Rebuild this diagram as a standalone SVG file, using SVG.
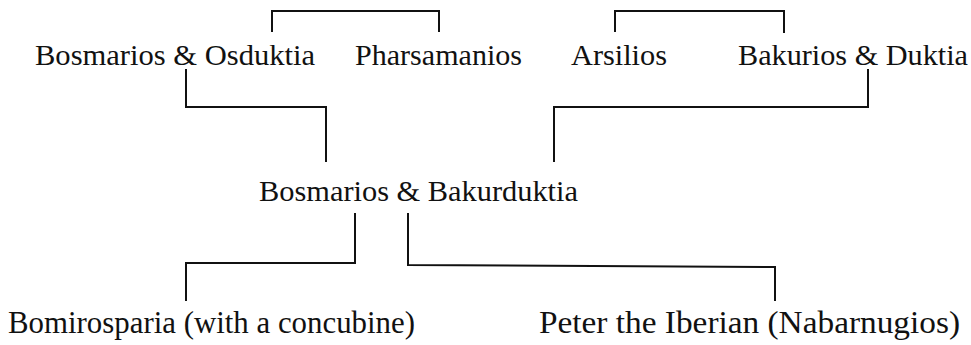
<svg xmlns="http://www.w3.org/2000/svg" width="971" height="345" viewBox="0 0 971 345">
<style>
text{font-family:"Liberation Serif",Tinos,"Noto Serif","DejaVu Serif",FreeSerif,"Times New Roman",serif;fill:#111;font-size:30px}
.b{font-size:31px}
path{fill:none;stroke:#111;stroke-width:2}
</style>
<rect width="971" height="345" fill="#fff"/>
<g id="connectors">
<path d="M272 32V11H439V32"/>
<path d="M615 32V11H784V33"/>
<path d="M186 69V107H326V162"/>
<path d="M868 69V107H554V162"/>
<path d="M355 213V263H186V301"/>
<path d="M408 213V265L775 267V301"/>
</g>
<g id="n1"><text x="35" y="65" textLength="280" lengthAdjust="spacingAndGlyphs">Bosmarios &amp; Osduktia</text></g>
<g id="n2"><text x="355" y="65" textLength="167" lengthAdjust="spacingAndGlyphs">Pharsamanios</text></g>
<g id="n3"><text x="571" y="65" textLength="96" lengthAdjust="spacingAndGlyphs">Arsilios</text></g>
<g id="n4"><text x="738" y="65" textLength="230" lengthAdjust="spacingAndGlyphs">Bakurios &amp; Duktia</text></g>
<g id="n5"><text x="259" y="201" textLength="319" lengthAdjust="spacingAndGlyphs">Bosmarios &amp; Bakurduktia</text></g>
<g id="n6"><text class="b" x="8" y="333" textLength="407" lengthAdjust="spacingAndGlyphs">Bomirosparia (with a concubine)</text></g>
<g id="n7"><text class="b" x="539" y="333" textLength="421" lengthAdjust="spacingAndGlyphs">Peter the Iberian (Nabarnugios)</text></g>
</svg>
